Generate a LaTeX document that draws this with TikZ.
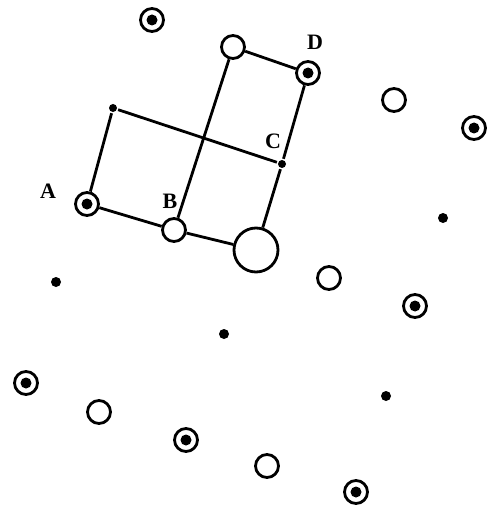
\documentclass[tikz,border=0pt]{standalone}
\usepackage{fontspec}
\setmainfont{Liberation Serif}
\begin{document}
\begin{tikzpicture}[x=1pt,y=-1pt,line width=2.8pt,
  empty/.style={circle,draw,fill=white,inner sep=0pt,minimum size=23pt},
  big/.style={empty,minimum size=44pt},
  ringed/.style={empty,path picture={\fill[black] (path picture bounding box.center) circle (5.5pt);}},
  dot/.style={circle,fill,inner sep=0pt,minimum size=10pt},
  small/.style={dot,minimum size=8pt},
  tag/.style={font=\fontsize{22}{22}\selectfont\bfseries}]
\useasboundingbox (0,0) rectangle (491,513);
% the two squares
\node[ringed] (A) at (87,204) {};
\node[small] (TL) at (113,108) {};
\node[small] (C) at (282,164) {};
\node[empty] (B) at (174,230) {};
\node[big] (X) at (256,250) {};
\node[empty] (T) at (233,47) {};
\node[ringed] (D) at (308,73) {};
\draw (A)--(TL)--(C)--(X)--(B)--(A);
\draw (B)--(T)--(D)--(C);
\node[tag] at (48,191) {A};
\node[tag] at (170,201) {B};
\node[tag] at (273,141) {C};
\node[tag] at (315,42) {D};
% remaining sites
\node[ringed] (r1) at (152,20) {};
\node[ringed] (r2) at (474,128) {};
\node[ringed] (r3) at (415,306) {};
\node[ringed] (r4) at (26,383) {};
\node[ringed] (r5) at (186,440) {};
\node[ringed] (r6) at (356,492) {};
\node[empty] (e1) at (394,100) {};
\node[empty] (e2) at (329,278) {};
\node[empty] (e3) at (99,412) {};
\node[empty] (e4) at (267,466) {};
\node[dot] (d1) at (443,218) {};
\node[dot] (d2) at (56,282) {};
\node[dot] (d3) at (224,334) {};
\node[dot] (d4) at (386,396) {};
\end{tikzpicture}
\end{document}
